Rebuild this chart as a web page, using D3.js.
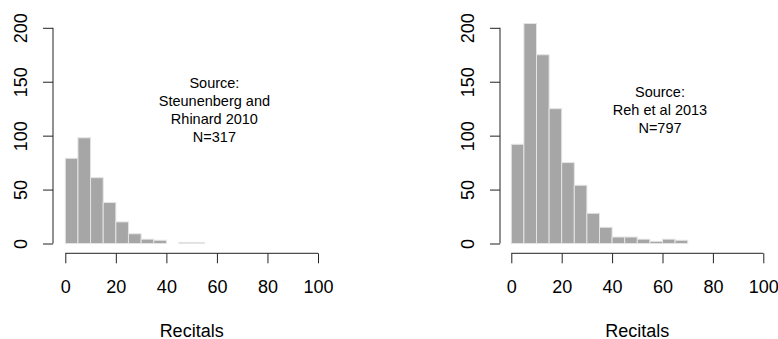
<!DOCTYPE html>
<html>
<head>
<meta charset="utf-8">
<script src="https://cdn.jsdelivr.net/npm/d3@7"></script>
<style>
  html, body { margin: 0; padding: 0; background: #fff; }
  svg { display: block; }
  text { font-family: "Liberation Sans", Arial, sans-serif; fill: #000; }
</style>
</head>
<body>
<script>
// Histogram bins: width 5 recitals, starting at 0
const binWidth = 5;
const countsSteunenberg = [79, 98, 61, 38, 20, 9, 4, 3, 0, 1, 1];
const countsReh = [92, 204, 175, 125, 75, 54, 28, 15, 6, 6, 4, 2, 4, 3];
const xTicks = [0, 20, 40, 60, 80, 100];
const yTicks = [0, 50, 100, 150, 200];
const labelSteunenberg = ["Source:", "Steunenberg and", "Rhinard 2010", "N=317"];
const labelReh = ["Source:", "Reh et al 2013", "N=797"];
const xTitle = "Recitals";

const W = 778, H = 339;
const svg = d3.select("body").append("svg").attr("width", W).attr("height", H);

function panel(counts, label, yAxisX, x0, x100) {
  const g = svg.append("g");
  const x = d3.scaleLinear().domain([0, 100]).range([x0, x100]);
  const y = d3.scaleLinear().domain([0, 200]).range([243.5, 27.8]);

  const bins = counts.map((c, i) => ({ lo: i * binWidth, hi: (i + 1) * binWidth, n: c }));

  g.selectAll("rect.bar").data(bins.filter(d => d.n > 0)).join("rect")
    .attr("class", "bar")
    .attr("x", d => x(d.lo))
    .attr("width", d => x(d.hi) - x(d.lo))
    .attr("y", d => y(d.n))
    .attr("height", d => y(0) - y(d.n))
    .attr("fill", "#a6a6a6")
    .attr("stroke", "#e4e4e4")
    .attr("stroke-width", 1);

  // y axis: line spans first to last tick, ticks point outward
  const yAx = g.append("g").attr("transform", `translate(${yAxisX},0)`)
    .call(d3.axisLeft(y).tickValues(yTicks).tickSize(10).tickPadding(0).tickFormat(d3.format("d")));
  yAx.select(".domain").attr("d", `M0,${y(0)}V${y(200)}`).attr("stroke", "#222");
  yAx.selectAll(".tick line").attr("stroke", "#222");
  yAx.selectAll(".tick text")
    .attr("font-size", 18)
    .attr("transform", "translate(-32,0) rotate(-90)")
    .attr("x", 0).attr("dy", "0.35em")
    .attr("text-anchor", "middle");

  // x axis
  const xAx = g.append("g").attr("transform", "translate(0,253.3)")
    .call(d3.axisBottom(x).tickValues(xTicks).tickSize(10).tickPadding(16.5).tickFormat(d3.format("d")));
  xAx.select(".domain").attr("d", `M${x(0)},0H${x(100)}`).attr("stroke", "#222");
  xAx.selectAll(".tick line").attr("stroke", "#222");
  xAx.selectAll(".tick text").attr("font-size", 18);

  g.append("text")
    .attr("x", (x(0) + x(100)) / 2)
    .attr("y", 336.5)
    .attr("text-anchor", "middle")
    .attr("font-size", 18)
    .text(xTitle);

  // source annotation, centered at (59, 124) in data units
  const lh = 18.2;
  const cy = y(124);
  const t = g.append("text").attr("text-anchor", "middle").attr("font-size", 14.5);
  label.forEach((s, i) => {
    t.append("tspan")
      .attr("x", x(59))
      .attr("y", cy + (i - (label.length - 1) / 2) * lh + 5.2)
      .text(s);
  });
}

panel(countsSteunenberg, labelSteunenberg, 53, 65.3, 318);
panel(countsReh, labelReh, 500, 511.3, 763.3);
</script>
</body>
</html>
